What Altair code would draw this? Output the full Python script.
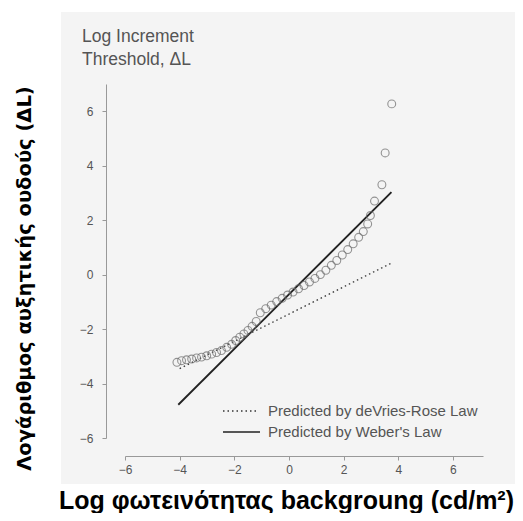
import altair as alt
import pandas as pd

# ---- data ----
PTS_X = [-4.10, -3.93, -3.75, -3.56, -3.38, -3.20, -3.01, -2.83, -2.65, -2.47,
         -2.28, -2.10, -1.95, -1.80, -1.65, -1.50, -1.35, -1.20, -1.05, -0.85,
         -0.65, -0.45, -0.25, -0.05, 0.15, 0.35, 0.55, 0.75, 0.95, 1.15,
         1.35, 1.55, 1.75, 1.95, 2.15, 2.35, 2.55, 2.72, 2.88, 2.98,
         3.13, 3.40, 3.52, 3.76]
PTS_Y = [-3.22, -3.16, -3.13, -3.10, -3.06, -3.03, -2.98, -2.92, -2.86, -2.79,
         -2.67, -2.56, -2.42, -2.30, -2.18, -2.05, -1.90, -1.72, -1.40, -1.25,
         -1.12, -0.99, -0.87, -0.75, -0.64, -0.52, -0.40, -0.27, -0.14, 0.00,
         0.16, 0.34, 0.52, 0.72, 0.92, 1.13, 1.37, 1.58, 1.86, 2.17,
         2.70, 3.30, 4.47, 6.27]

DEVRIES_X = [-4.0, 3.8]
DEVRIES_Y = [-3.45, 0.45]
WEBER_X = [-4.05, 3.75]
WEBER_Y = [-4.78, 3.03]

TICKS = [-6, -4, -2, 0, 2, 4, 6]
X_DOMAIN = [-6, 7.1]
Y_DOMAIN = [-6, 7]

CORNER_LINES = ["Log Increment", "Threshold, ΔL"]
LEGEND_LABELS = ["Predicted by  deVries-Rose Law", "Predicted by Weber's Law"]
X_TITLE = "Log φωτεινότητας backgroung (cd/m²)"
Y_TITLE = "Λογάριθμος αυξητικής ουδούς (ΔL)"

W, H = 358, 354
FONT = "Liberation Sans"
GREY = "#555555"

pts = pd.DataFrame({"x": PTS_X, "y": PTS_Y})
dv = pd.DataFrame({"x": DEVRIES_X, "y": DEVRIES_Y})
wb = pd.DataFrame({"x": WEBER_X, "y": WEBER_Y})

x_axis = alt.Axis(values=TICKS, grid=False, offset=18, zindex=1, domainColor="#999999",
                  tickColor="#999999", tickSize=4, labelColor=GREY, labelFont=FONT,
                  labelFontSize=12, labelPadding=4, labelFlush=False,
                  title=X_TITLE, titleFont=FONT, titleFontSize=25, titleFontWeight="bold",
                  titleColor="black", titleX=161, titleY=44, titleAlign="center",
                  titleBaseline="middle")
y_axis = alt.Axis(values=TICKS, grid=False, offset=19, zindex=1, domainColor="#999999",
                  tickColor="#999999", tickSize=4, labelColor=GREY, labelFont=FONT,
                  labelFontSize=12, labelPadding=9, labelFlush=False,
                  title=Y_TITLE, titleFont="DejaVu Sans", titleFontSize=19.5,
                  titleFontWeight="bold", titleColor="black", titleAngle=270,
                  titleX=-82, titleY=194, titleAlign="center", titleBaseline="middle")

X = alt.X("x:Q", scale=alt.Scale(domain=X_DOMAIN, nice=False, zero=False), axis=x_axis)
Y = alt.Y("y:Q", scale=alt.Scale(domain=Y_DOMAIN, nice=False, zero=False), axis=y_axis)

panel = alt.Chart(pd.DataFrame({"p": [0]})).mark_rect(color="#f4f4f4").encode(
    x=alt.value(-64), x2=alt.value(392), y=alt.value(-72), y2=alt.value(400))

devries = alt.Chart(dv).mark_line(color="#333333", strokeWidth=1.3,
                                  strokeDash=[1.5, 3]).encode(x=X, y=Y)
weber = alt.Chart(wb).mark_line(color="#222222", strokeWidth=1.9).encode(x=X, y=Y)
points = alt.Chart(pts).mark_point(shape="circle", filled=False, size=62,
                                   color="#6a6a6a", strokeWidth=1.1).encode(x=X, y=Y)

corner_df = pd.DataFrame({"t": CORNER_LINES, "k": [0, 1]})
corner = alt.Chart(corner_df).mark_text(
    align="left", baseline="middle", font=FONT, fontSize=17.5, color=GREY).encode(
    text="t:N", x=alt.value(-43), y=alt.value(-47)).transform_filter("datum.k == 0")
corner2 = alt.Chart(corner_df).mark_text(
    align="left", baseline="middle", font=FONT, fontSize=17.5, color=GREY).encode(
    text="t:N", x=alt.value(-43), y=alt.value(-24)).transform_filter("datum.k == 1")

leg_df = pd.DataFrame({"t": LEGEND_LABELS, "k": [0, 1]})
leg_dot = alt.Chart(leg_df).mark_rule(color="#333333", strokeWidth=1.3,
                                      strokeDash=[1.5, 3]).encode(
    x=alt.value(98), x2=alt.value(133), y=alt.value(327)).transform_filter("datum.k == 0")
leg_sol = alt.Chart(leg_df).mark_rule(color="#222222", strokeWidth=1.5).encode(
    x=alt.value(98), x2=alt.value(135), y=alt.value(348)).transform_filter("datum.k == 1")
leg_t0 = alt.Chart(leg_df).mark_text(align="left", baseline="middle", font=FONT,
                                     fontSize=15, color=GREY).encode(
    text="t:N", x=alt.value(143), y=alt.value(327)).transform_filter("datum.k == 0")
leg_t1 = alt.Chart(leg_df).mark_text(align="left", baseline="middle", font=FONT,
                                     fontSize=15, color=GREY).encode(
    text="t:N", x=alt.value(143), y=alt.value(348)).transform_filter("datum.k == 1")

chart = alt.layer(panel, devries, weber, points, corner, corner2,
                  leg_dot, leg_sol, leg_t0, leg_t1).properties(
    width=W, height=H,
    autosize=alt.AutoSizeParams(type="none"),
    padding={"left": 117, "top": 76, "right": 32, "bottom": 75},
    background="white",
).configure_view(strokeWidth=0)

chart.save("out.html", embed_options={"renderer": "svg", "actions": False})
